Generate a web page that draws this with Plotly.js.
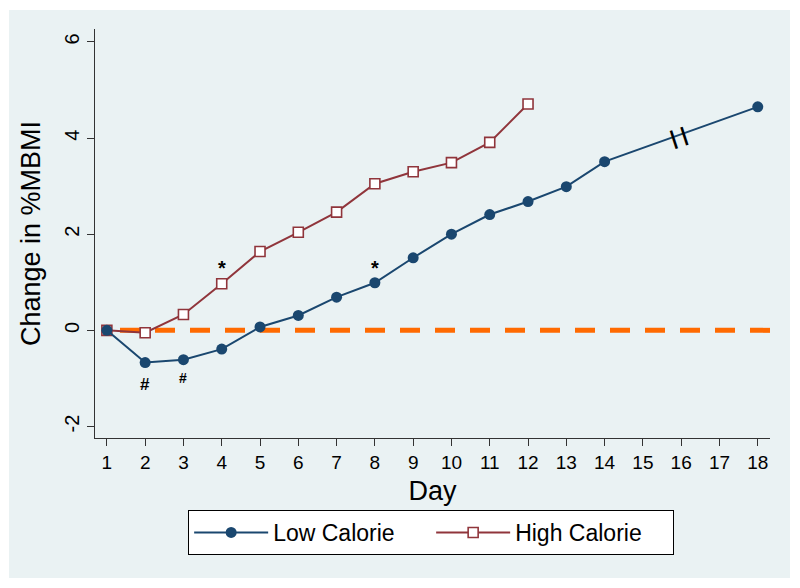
<!DOCTYPE html>
<html>
<head>
<meta charset="utf-8">
<script src="https://cdn.plot.ly/plotly-3.0.1.min.js"></script>
<style>
  html, body { margin: 0; padding: 0; background: #ffffff; }
  #chart { width: 800px; height: 588px; }
</style>
</head>
<body>
<div id="chart"></div>
<script>
// days and % change in MBMI
let lowDays = [1, 2, 3, 4, 5, 6, 7, 8, 9, 10, 11, 12, 13, 14, 18];
let lowCal = [0, -0.67, -0.61, -0.39, 0.07, 0.31, 0.69, 0.99, 1.51, 2.0, 2.41, 2.68, 2.99, 3.51, 4.65];

let highDays = [1, 2, 3, 4, 5, 6, 7, 8, 9, 10, 11, 12];
let highCal = [0, -0.05, 0.33, 0.97, 1.64, 2.04, 2.46, 3.05, 3.30, 3.49, 3.91, 4.71];

let dayTicks = [1, 2, 3, 4, 5, 6, 7, 8, 9, 10, 11, 12, 13, 14, 15, 16, 17, 18];
let yTicks = [-2, 0, 2, 4, 6];
let yTickText = ["-2", "0", "2", "4", "6"];

// significance marks: * above, # below
let starDays = [4, 8];
let starY = [1.29, 1.29];
let hashDays = [2, 3];
let hashY = [-1.12, -0.99];
let hashSize = [17, 14];

const navy = "#1a476f";
const maroon = "#90353b";
const bgGray = "#eaf2f3";

let lowTrace = {
  x: lowDays, y: lowCal,
  type: "scatter", mode: "lines+markers",
  name: "Low Calorie", legendrank: 1,
  line: { color: navy, width: 2 },
  marker: { color: navy, size: 11, symbol: "circle" }
};
let highTrace = {
  x: highDays, y: highCal,
  type: "scatter", mode: "lines+markers",
  name: "High Calorie", legendrank: 2,
  line: { color: maroon, width: 2 },
  marker: { color: "#ffffff", size: 10, symbol: "square", line: { color: maroon, width: 1.6 } }
};

let notes = [];
starDays.forEach((d, i) => notes.push({
  x: d, y: starY[i], text: "<b>*</b>", showarrow: false,
  font: { family: "Liberation Sans, Arial", size: 20, color: "#000" }
}));
hashDays.forEach((d, i) => notes.push({
  x: d, y: hashY[i], text: "<b>#</b>", showarrow: false,
  font: { family: "Liberation Sans, Arial", size: hashSize[i], color: "#000" }
}));
// axis break mark on the low calorie line between day 14 and 18
notes.push({
  x: 15.92, y: 4.05, text: "<b>| |</b>", showarrow: false, textangle: -18,
  font: { family: "Liberation Sans, Arial", size: 20, color: "#000" }
});

// outer gray frame around the graph region
let shapes = [
  { type: "rect", xref: "paper", yref: "paper", layer: "below",
    x0: (9 - 95) / 675, x1: (790 - 95) / 675,
    y0: -(578 - 438) / 409, y1: 1 + (29 - 10) / 409,
    fillcolor: bgGray, line: { width: 0 } }
];
// light gridlines (the zero one is replaced by the orange dashed line)
yTicks.filter(v => v !== 0).forEach(v => shapes.push({
  type: "line", xref: "paper", yref: "y", x0: 0, x1: 1, y0: v, y1: v,
  layer: "below", line: { color: bgGray, width: 1.5 }
}));
shapes.push({
  type: "line", xref: "paper", yref: "y", x0: 25 / 675, x1: 1, y0: 0, y1: 0,
  layer: "below", line: { color: "#ff6a00", width: 5, dash: "20px,15px" }
});

let layout = {
  width: 800, height: 588,
  paper_bgcolor: "#ffffff",
  plot_bgcolor: "#ffffff",
  margin: { l: 95, r: 30, t: 29, b: 150 },
  font: { family: "Liberation Sans, Arial, sans-serif", color: "#000" },
  showlegend: true,
  legend: {
    orientation: "h", x: 0.498, xanchor: "center", y: -0.176, yanchor: "top",
    bgcolor: "#ffffff", bordercolor: "#000", borderwidth: 1,
    font: { size: 23 }, itemwidth: 74,
    entrywidth: 153, entrywidthmode: "pixels"
  },
  xaxis: {
    range: [0.69, 18.32],
    tickvals: dayTicks, ticktext: dayTicks.map(String),
    ticks: "outside", ticklen: 7, tickcolor: "#333",
    showline: true, linecolor: "#333", linewidth: 1,
    showgrid: false, zeroline: false,
    tickfont: { size: 19 },
    title: { text: "Day", font: { size: 27 }, standoff: 9 }
  },
  yaxis: {
    range: [-2.24, 6.27],
    tickvals: yTicks, ticktext: yTickText,
    tickangle: -90,
    ticks: "outside", ticklen: 7, tickcolor: "#333",
    showline: true, linecolor: "#333", linewidth: 1,
    showgrid: false, zeroline: false,
    tickfont: { size: 20 },
    title: { text: "Change in %MBMI", font: { size: 27 }, standoff: 12 }
  },
  shapes: shapes,
  annotations: notes
};

// high calorie first so the low calorie markers sit on top (as in the figure)
Plotly.newPlot("chart", [highTrace, lowTrace], layout, { displayModeBar: false, staticPlot: true });
</script>
</body>
</html>
